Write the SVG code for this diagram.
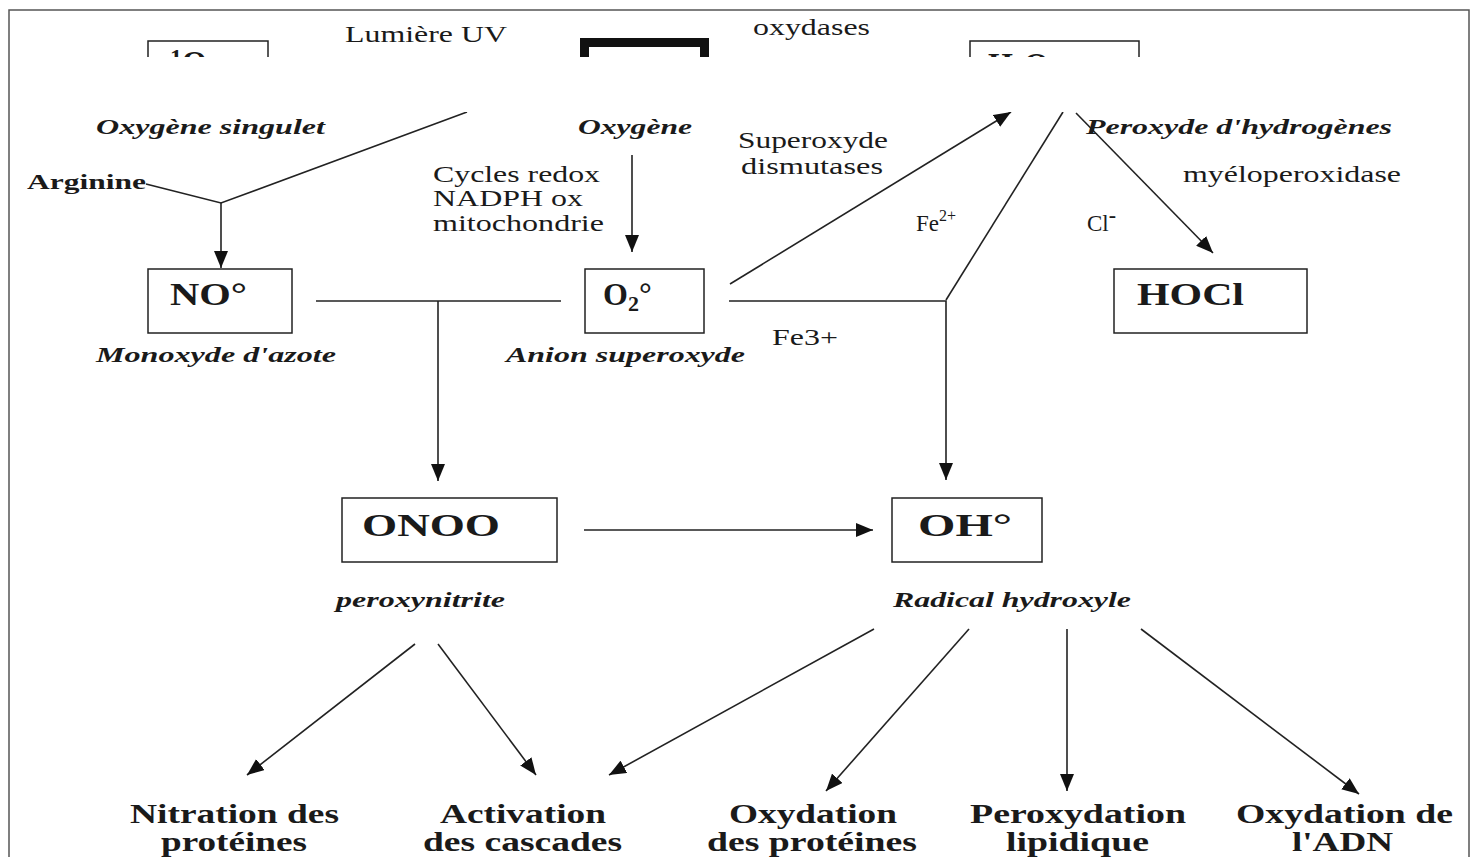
<svg xmlns="http://www.w3.org/2000/svg" width="1475" height="857" viewBox="0 0 1475 857">
<style>
.t{font-family:"Liberation Serif","Times New Roman",serif;fill:#1a1a1a}
.r{font-size:23px}
.bi{font-size:21px;font-weight:bold;font-style:italic}
.bl{font-size:28px;font-weight:bold}
.bx{font-size:32px;font-weight:bold}
.box{fill:#fff;stroke:#222;stroke-width:1.5}
.ln{fill:none;stroke:#222;stroke-width:1.6}
.sm{font-size:16px}
</style>
<defs>
<marker id="ah" markerWidth="18" markerHeight="14" refX="17" refY="7" orient="auto" markerUnits="userSpaceOnUse">
<path d="M0,0 L17,7 L0,14 z" fill="#111"/>
</marker>
<clipPath id="topclip"><rect x="0" y="0" width="1475" height="57"/></clipPath>
</defs>
<rect width="1475" height="857" fill="#fff"/>
<rect x="9" y="10" width="1460" height="880" fill="none" stroke="#555" stroke-width="1.5"/>

<g id="top-boxes" clip-path="url(#topclip)">
<g id="node-singlet">
<rect class="box" x="148" y="41" width="120" height="64"/>
<text class="t bx" x="170" y="73" font-size="34"><tspan font-size="24" dy="-8">1</tspan><tspan dy="8">O</tspan><tspan font-size="22" dy="6">2</tspan></text>
</g>
<g id="node-oxygen">
<rect x="584.5" y="42.5" width="120" height="64" fill="#fff" stroke="#111" stroke-width="9"/>
<text class="t bx" x="612" y="79">O<tspan font-size="22" dy="6">2</tspan></text>
</g>
<g id="node-h2o2">
<rect class="box" x="970" y="41" width="169" height="64"/>
<text class="t bx" x="988" y="75" font-size="34">H<tspan font-size="22" dy="6">2</tspan><tspan dy="-6">O</tspan><tspan font-size="22" dy="6">2</tspan></text>
</g>
</g>

<g id="connectors">
<polyline class="ln" points="146,184 221,203 467,112"/>
<line class="ln" x1="221" y1="203" x2="221" y2="268" marker-end="url(#ah)"/>
<line class="ln" x1="632" y1="155" x2="632" y2="252" marker-end="url(#ah)"/>
<line class="ln" x1="730" y1="284" x2="1011" y2="112" marker-end="url(#ah)"/>
<polyline class="ln" points="1063,112 946,300"/>
<line class="ln" x1="1076" y1="113" x2="1213" y2="253" marker-end="url(#ah)"/>
<polyline class="ln" points="729,301 946,301 946,480" marker-end="url(#ah)"/>
<line class="ln" x1="316" y1="301" x2="561" y2="301"/>
<line class="ln" x1="438" y1="301" x2="438" y2="481" marker-end="url(#ah)"/>
<line class="ln" x1="584" y1="530" x2="873" y2="530" marker-end="url(#ah)"/>
<line class="ln" x1="415" y1="644" x2="247" y2="775" marker-end="url(#ah)"/>
<line class="ln" x1="438" y1="644" x2="536" y2="775" marker-end="url(#ah)"/>
<line class="ln" x1="874" y1="629" x2="609" y2="775" marker-end="url(#ah)"/>
<line class="ln" x1="969" y1="629" x2="826" y2="791" marker-end="url(#ah)"/>
<line class="ln" x1="1067" y1="629" x2="1067" y2="791" marker-end="url(#ah)"/>
<line class="ln" x1="1141" y1="629" x2="1359" y2="794" marker-end="url(#ah)"/>
</g>

<rect id="cover" x="11" y="57" width="1134" height="55" fill="#fff"/>

<g id="labels">
<text class="t r" x="345" y="42" textLength="162" lengthAdjust="spacingAndGlyphs">Lumière UV</text>
<text class="t r" x="753" y="35" textLength="117" lengthAdjust="spacingAndGlyphs">oxydases</text>
<text class="t bi" x="96" y="134" textLength="229" lengthAdjust="spacingAndGlyphs">Oxygène singulet</text>
<text class="t bi" x="578" y="134" textLength="114" lengthAdjust="spacingAndGlyphs">Oxygène</text>
<text class="t bi" x="1086" y="134" textLength="306" lengthAdjust="spacingAndGlyphs">Peroxyde d'hydrogènes</text>
<text class="t r" x="738" y="148" textLength="150" lengthAdjust="spacingAndGlyphs">Superoxyde</text>
<text class="t r" x="741" y="174" textLength="142" lengthAdjust="spacingAndGlyphs">dismutases</text>
<text class="t r" x="1183" y="182" textLength="218" lengthAdjust="spacingAndGlyphs">myéloperoxidase</text>
<text class="t" x="27" y="189" font-size="22" font-weight="bold" textLength="119" lengthAdjust="spacingAndGlyphs">Arginine</text>
<text class="t r" x="433" y="182" textLength="167" lengthAdjust="spacingAndGlyphs">Cycles redox</text>
<text class="t r" x="433" y="206" textLength="150" lengthAdjust="spacingAndGlyphs">NADPH ox</text>
<text class="t r" x="433" y="231" textLength="171" lengthAdjust="spacingAndGlyphs">mitochondrie</text>
<text class="t r" x="916" y="231" font-size="24">Fe<tspan class="sm" dy="-10">2+</tspan></text>
<text class="t r" x="1087" y="231" font-size="24">Cl<tspan font-size="22" font-weight="bold" dy="-9">-</tspan></text>
<text class="t r" x="772" y="345" textLength="66" lengthAdjust="spacingAndGlyphs">Fe3+</text>
<text class="t bi" x="96" y="362" textLength="240" lengthAdjust="spacingAndGlyphs">Monoxyde d'azote</text>
<text class="t bi" x="506" y="362" textLength="239" lengthAdjust="spacingAndGlyphs">Anion superoxyde</text>
<text class="t bi" x="336" y="607" textLength="169" lengthAdjust="spacingAndGlyphs">peroxynitrite</text>
<text class="t bi" x="893" y="607" textLength="238" lengthAdjust="spacingAndGlyphs">Radical hydroxyle</text>
</g>

<g id="node-no">
<rect class="box" x="148" y="269" width="144" height="64"/>
<text class="t bx" x="170" y="305" textLength="77" lengthAdjust="spacingAndGlyphs">NO°</text>
</g>
<g id="node-o2rad">
<rect class="box" x="585" y="269" width="119" height="64"/>
<text class="t bx" x="603" y="305">O<tspan font-size="22" dy="6">2</tspan><tspan dy="-6">°</tspan></text>
</g>
<g id="node-hocl">
<rect class="box" x="1114" y="269" width="193" height="64"/>
<text class="t bx" x="1137" y="305" textLength="107" lengthAdjust="spacingAndGlyphs">HOCl</text>
</g>
<g id="node-onoo">
<rect class="box" x="342" y="498" width="215" height="64"/>
<text class="t bx" x="362" y="536" font-size="34" textLength="138" lengthAdjust="spacingAndGlyphs">ONOO</text>
</g>
<g id="node-oh">
<rect class="box" x="892" y="498" width="150" height="64"/>
<text class="t bx" x="918" y="536" font-size="34" textLength="94" lengthAdjust="spacingAndGlyphs">OH°</text>
</g>

<g id="node-nitration">
<text class="t bl" x="130" y="823" textLength="209" lengthAdjust="spacingAndGlyphs">Nitration des</text>
<text class="t bl" x="161" y="851" textLength="146" lengthAdjust="spacingAndGlyphs">protéines</text>
</g>
<g id="node-activation">
<text class="t bl" x="440" y="823" textLength="166" lengthAdjust="spacingAndGlyphs">Activation</text>
<text class="t bl" x="423" y="851" textLength="199" lengthAdjust="spacingAndGlyphs">des cascades</text>
</g>
<g id="node-oxprot">
<text class="t bl" x="729" y="823" textLength="168" lengthAdjust="spacingAndGlyphs">Oxydation</text>
<text class="t bl" x="707" y="851" textLength="210" lengthAdjust="spacingAndGlyphs">des protéines</text>
</g>
<g id="node-perox">
<text class="t bl" x="970" y="823" textLength="216" lengthAdjust="spacingAndGlyphs">Peroxydation</text>
<text class="t bl" x="1006" y="851" textLength="143" lengthAdjust="spacingAndGlyphs">lipidique</text>
</g>
<g id="node-adn">
<text class="t bl" x="1236" y="823" textLength="217" lengthAdjust="spacingAndGlyphs">Oxydation de</text>
<text class="t bl" x="1292" y="851" textLength="101" lengthAdjust="spacingAndGlyphs">l'ADN</text>
</g>
</svg>
